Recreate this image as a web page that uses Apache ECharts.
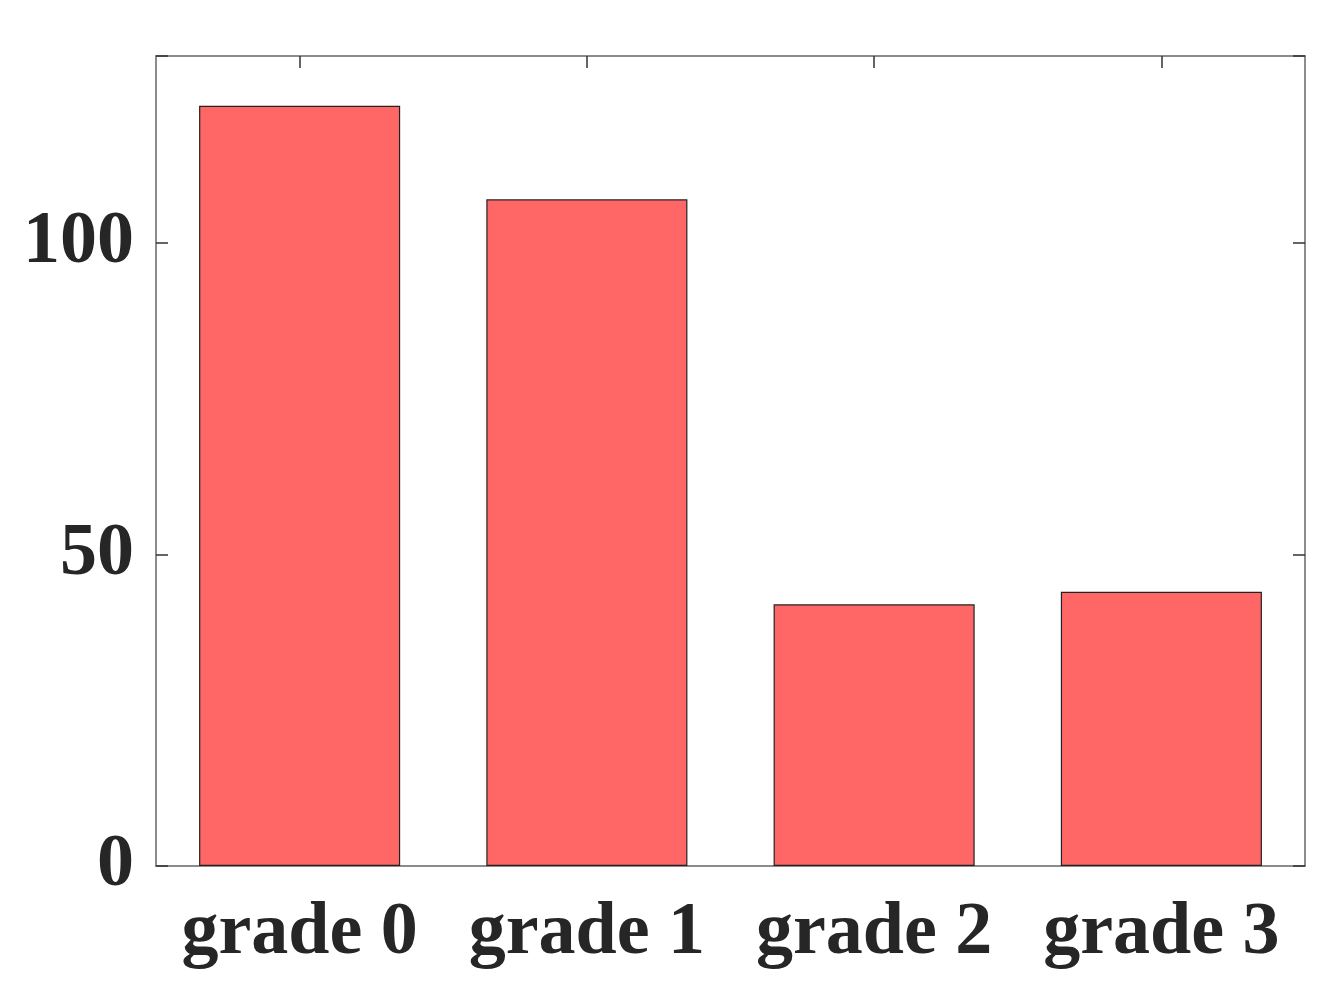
<!DOCTYPE html>
<html>
<head>
<meta charset="utf-8">
<script src="https://cdn.jsdelivr.net/npm/echarts@6/dist/echarts.min.js"></script>
<style>
  html, body { margin: 0; padding: 0; background: #fff; }
  #chart { width: 1328px; height: 990px; }
</style>
</head>
<body>
<div id="chart"></div>
<script>
// data
var categories = ['grade 0', 'grade 1', 'grade 2', 'grade 3']
var counts = [122, 107, 42, 44]
var yTicks = [0, 50, 100]

var myChart = echarts.init(document.getElementById('chart'))
var labelFont = {
  fontFamily: 'Liberation Serif',
  fontWeight: 'bold',
  fontSize: 74,
  color: '#262626',
}
var axisLine = { show: true, onZero: false, lineStyle: { color: '#666', width: 1.5 } }
var tick = { show: true, inside: true, length: 12, lineStyle: { color: '#333', width: 1.5 } }

var option = {
  animation: false,
  grid: { left: 156, right: 23, top: 56, bottom: 124 },
  xAxis: [
    {
      type: 'category',
      data: categories,
      axisLine: axisLine,
      axisTick: Object.assign({ alignWithLabel: true }, tick),
      axisLabel: Object.assign({ margin: 31, interval: 0 }, labelFont),
    },
    {
      type: 'category',
      data: categories,
      position: 'top',
      axisLine: axisLine,
      axisTick: Object.assign({ alignWithLabel: true }, tick),
      axisLabel: { show: false },
    },
  ],
  yAxis: [
    {
      type: 'value',
      min: 0,
      max: 130,
      interval: 50,
      splitLine: { show: false },
      axisLine: axisLine,
      axisTick: tick,
      axisLabel: Object.assign({
        margin: 22,
        padding: [6, 0, 0, 0],
        formatter: function (v) { return yTicks.indexOf(v) >= 0 ? v : '' },
      }, labelFont),
    },
    {
      type: 'value',
      min: 0,
      max: 130,
      interval: 50,
      position: 'right',
      splitLine: { show: false },
      axisLine: axisLine,
      axisTick: tick,
      axisLabel: { show: false },
    },
  ],
  series: [
    {
      type: 'bar',
      data: counts,
      barWidth: '70%',
      itemStyle: { color: '#FF6666', borderColor: '#222', borderWidth: 1.2 },
    },
  ],
}
myChart.setOption(option, true)
</script>
</body>
</html>
